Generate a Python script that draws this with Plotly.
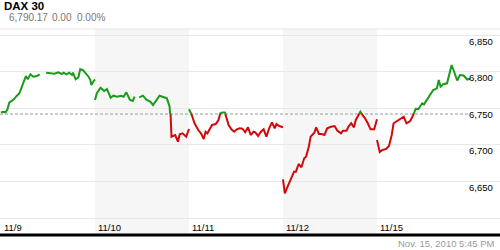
import plotly.graph_objects as go

# ---------------- data ----------------
title = "DAX 30"
last_price = "6,790.17"
change = "0.00"
change_pct = "0.00%"
timestamp = "Nov. 15, 2010 5:45 PM"
prev_close = 6742
day_labels = ["11/9", "11/10", "11/11", "11/12", "11/15"]
y_ticks = [6600, 6650, 6700, 6750, 6800, 6850]
y_tick_labels = ["", "6,650", "6,700", "6,750", "6,800", "6,850"]
session_minutes = 510  # 9:00 - 17:30

# minutes since open / index level (None = missing quote)
d1_min = [0, 10, 25, 35, 45, 60, 70, 85, 100, 110, 125, 135, 145, 160, 175, 195, 210, 228,
          245, 265, 290, 310, 330, 340, 355, 370, 385, 390, 405, 420, 430, 445, 460, 475,
          485, 490, 500, 510]
d1_val = [6743.9, 6745.2, 6744.4, 6748.5, 6757.5, 6760.3, 6762.2, 6766.7, 6770.4, 6777.2,
          6786.2, 6794.0, 6789.5, 6796.3, 6793.0, 6794.0, 6796.3, None,
          6798.5, 6797.7, 6797.1, 6799.0, 6796.7, 6798.5, 6796.3, 6798.5, 6795.4, 6798.5,
          6789.5, 6792.2, 6803.6, 6802.2, 6797.7, 6793.0, 6788.5, 6781.7, 6786.2, 6789.5]

d2_min = [0, 10, 30, 50, 65, 85, 100, 120, 140, 155, 170, 190, 205, 215, 228, 240, 260,
          280, 300, 315, 335, 350, 370, 390, 405, 410, 415, 435, 450, 460, 475, 495, 510]
d2_val = [6761.2, 6770.4, 6778.0, 6773.5, 6776.2, 6764.4, 6767.1, 6765.7, 6767.1, 6765.7,
          6771.7, 6761.2, 6759.8, 6765.7, None, 6764.9, 6767.1, 6761.2, 6758.9, 6754.4,
          6761.2, 6767.1, 6765.3, 6763.5, 6752.1, 6741.7, 6711.1, 6713.4, 6704.2, 6714.4,
          6715.7, 6711.1, 6721.6]

d3_min = [0, 15, 30, 50, 65, 80, 90, 100, 115, 125, 145, 160, 170, 180, 195, 205, 215, 230,
          245, 260, 275, 290, 305, 320, 335, 350, 360, 375, 390, 405, 420, 435, 450, 465,
          475, 490, 510]
d3_val = [6748.5, 6740.7, 6729.4, 6720.2, 6715.7, 6707.9, 6717.9, 6715.7, 6722.6, 6727.1,
          6728.4, 6733.9, 6743.0, 6744.0, 6744.0, 6736.2, 6727.1, 6721.2, 6717.9, 6721.2,
          6722.6, 6722.0, 6717.1, 6723.9, 6713.4, 6717.9, 6717.1, 6712.0, 6717.9, 6721.2,
          6711.1, 6722.6, 6730.7, 6722.6, 6728.4, 6725.7, 6723.9]

d4_min = [0, 10, 25, 45, 60, 70, 85, 100, 115, 125, 140, 150, 170, 180, 195, 210, 225, 240,
          260, 280, 295, 315, 325, 345, 355, 370, 385, 395, 410, 420, 435, 445, 460, 475,
          495, 510]
d4_val = [6652.9, 6633.8, 6642.8, 6655.6, 6663.3, 6663.3, 6673.8, 6669.3, 6681.6, 6683.8,
          6697.4, 6711.1, 6716.5, 6723.9, 6714.8, 6714.8, 6713.4, 6722.6, 6724.7, 6725.7,
          6719.3, 6715.7, 6719.3, 6719.3, 6724.7, 6729.4, 6723.9, 6733.9, 6741.0, 6745.2,
          6739.4, 6736.2, 6729.4, 6721.2, 6721.2, 6734.8]

d5_min = [0, 15, 30, 50, 65, 80, 90, 110, 130, 145, 160, 180, 195, 210, 225, 245, 255, 275,
          290, 305, 325, 335, 345, 360, 380, 405, 420, 435, 450, 470, 490, 505]
d5_val = [6706.6, 6690.2, 6692.9, 6694.3, 6698.4, 6713.4, 6729.4, 6732.5, 6736.2, 6738.4,
          6729.4, 6732.5, 6739.8, 6749.2, 6748.9, 6756.7, 6755.3, 6763.5, 6770.4, 6774.9,
          6777.2, 6788.5, 6779.4, 6782.7, 6784.0, 6809.0, 6798.8, 6787.8, 6795.4, 6794.7,
          6789.2, 6790.17]

days_min = [d1_min, d2_min, d3_min, d4_min, d5_min]
days_val = [d1_val, d2_val, d3_val, d4_val, d5_val]

# ---------------- build ----------------
xs, ys = [], []
for k, (mins, vals) in enumerate(zip(days_min, days_val)):
    xs += [k * session_minutes + m for m in mins]
    ys += list(vals)
    xs.append(None)
    ys.append(None)

y_lo, y_hi = 6576.8, 6858.2
x_lo, x_hi = -5.43, 2707.4
split = (prev_close - y_lo) / (y_hi - y_lo)

GREEN = "#1a9c1a"
RED = "#d00a0a"
FONT = "Liberation Sans"

fig = go.Figure()
fig.add_trace(go.Scatter(x=xs, y=ys, xaxis="x", yaxis="y2", mode="lines",
                         line=dict(color=GREEN, width=2), connectgaps=False,
                         hoverinfo="skip", showlegend=False))
fig.add_trace(go.Scatter(x=xs, y=ys, xaxis="x", yaxis="y3", mode="lines",
                         line=dict(color=RED, width=2), connectgaps=False,
                         hoverinfo="skip", showlegend=False))

shapes = []
for k in range(len(day_labels)):
    if k % 2 == 1:
        shapes.append(dict(type="rect", xref="x", yref="paper",
                           x0=k * session_minutes, x1=(k + 1) * session_minutes,
                           y0=0, y1=1, fillcolor="#f6f6f6", line=dict(width=0),
                           layer="below"))
shapes.append(dict(type="line", xref="paper", yref="y", x0=0, x1=0.94,
                   y0=prev_close, y1=prev_close,
                   line=dict(color="#999999", width=1, dash="3px,2px"), layer="between"))
shapes.append(dict(type="line", xref="paper", yref="paper", x0=0, x1=1, y0=1, y1=1,
                   line=dict(color="#e6e6e6", width=1), layer="below"))
shapes.append(dict(type="line", xref="paper", yref="paper", x0=0, x1=1, y0=0, y1=0,
                   line=dict(color="#000000", width=3), layer="above"))

H, T, B = 250, 29, 15
ph = H - T - B

ann = []
for v, lab in zip(y_ticks, y_tick_labels):
    if lab:
        ann.append(dict(x=1, xref="paper", xanchor="right", xshift=-5,
                        y=v, yref="y", yanchor="middle", yshift=-6,
                        text=lab, showarrow=False,
                        font=dict(family=FONT, size=9.5, color="#000")))
for k, lab in enumerate(day_labels):
    ann.append(dict(x=k * session_minutes, xref="x", xanchor="left", xshift=1,
                    y=0, yref="paper", yanchor="middle", yshift=8,
                    text=lab, showarrow=False,
                    font=dict(family=FONT, size=9.5, color="#000")))
ann.append(dict(x=2 / 500, xref="paper", y=1 + (T - 6) / ph, yref="paper",
                text=f"<b>{title}</b>", showarrow=False, xanchor="left", yanchor="middle",
                font=dict(family=FONT, size=11.5, color="#000")))
header = [(last_price, 7), (change, 50), (change_pct, 75)]
for txt, px in header:
    ann.append(dict(x=px / 500, xref="paper", y=1 + (T - 17) / ph, yref="paper",
                    text=txt, showarrow=False, xanchor="left", yanchor="middle",
                    font=dict(family=FONT, size=10, color="#777")))
ann.append(dict(x=1, xref="paper", xanchor="right", xshift=-3, y=0, yref="paper",
                yshift=-8, yanchor="middle", text=timestamp, showarrow=False,
                font=dict(family=FONT, size=9.5, color="#9a9a9a")))

fig.update_layout(
    width=500, height=250,
    margin=dict(l=0, r=0, t=T, b=B, pad=0),
    paper_bgcolor="white", plot_bgcolor="rgba(0,0,0,0)",
    showlegend=False,
    xaxis=dict(range=[x_lo, x_hi], domain=[0, 1], anchor="y", showgrid=False,
               zeroline=False, showline=False, showticklabels=False, ticks="",
               fixedrange=True),
    yaxis=dict(range=[y_lo, y_hi], domain=[0, 1], anchor="x", tickvals=y_ticks,
               showgrid=True, gridcolor="#e8e8e8", gridwidth=1, zeroline=False,
               showline=False, showticklabels=False, ticks="", fixedrange=True),
    yaxis2=dict(range=[prev_close, y_hi], domain=[split, 1], anchor="x", visible=False,
                showgrid=False, zeroline=False, fixedrange=True),
    yaxis3=dict(range=[y_lo, prev_close], domain=[0, split], anchor="x", visible=False,
                showgrid=False, zeroline=False, fixedrange=True),
    shapes=shapes, annotations=ann,
)

fig.write_html("out.html", config={"displayModeBar": False, "staticPlot": True})
